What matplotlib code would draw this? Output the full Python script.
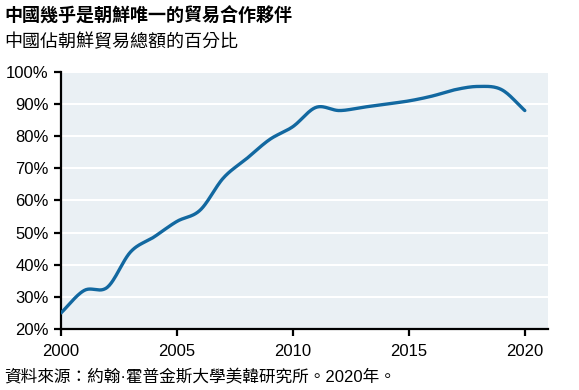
import numpy as np
import matplotlib
matplotlib.use("Agg")
import matplotlib.pyplot as plt

years = [2000, 2001, 2002, 2003, 2004, 2005, 2006, 2007, 2008, 2009, 2010,
         2011, 2012, 2013, 2014, 2015, 2016, 2017, 2018, 2019, 2020]
share = [25, 32, 33, 44, 48.6, 53.5, 57, 67, 73, 79, 83,
         89, 88, 89, 90, 91, 92.5, 94.5, 95.5, 94.5, 88]
yticks = [20, 30, 40, 50, 60, 70, 80, 90, 100]
xticks = [2000, 2005, 2010, 2015, 2020]

title = "中國幾乎是朝鮮唯一的貿易合作夥伴"
subtitle = "中國佔朝鮮貿易總額的百分比"
source = "資料來源：約翰·霍普金斯大學美韓研究所。2020年。"

plt.rcParams['font.family'] = ['Liberation Sans', 'Noto Sans CJK TC', 'DejaVu Sans']

def smooth(x, y, n=24):
    # Catmull-Rom curve through the data points (drawing only)
    x = np.asarray(x, float); y = np.asarray(y, float)
    P = np.column_stack([x, y])
    P = np.vstack([2*P[0] - P[1], P, 2*P[-1] - P[-2]])
    out = []
    for i in range(1, len(P) - 2):
        p0, p1, p2, p3 = P[i-1], P[i], P[i+1], P[i+2]
        t = np.linspace(0, 1, n, endpoint=False)[:, None]
        pt = 0.5 * ((2*p1) + (-p0 + p2)*t + (2*p0 - 5*p1 + 4*p2 - p3)*t**2
                    + (-p0 + 3*p1 - 3*p2 + p3)*t**3)
        out.append(pt)
    out.append(P[-2][None, :])
    out = np.vstack(out)
    return out[:, 0], out[:, 1]

fig = plt.figure(figsize=(5.79, 3.90), dpi=100)
ax = fig.add_axes([61/579, 1 - 329/390, (548-61)/579, (329-72)/390])
ax.set_facecolor('#EAF0F4')
sx, sy = smooth(years, share)
ax.plot(sx, sy, color='#1268A0', lw=2.4, solid_capstyle='round', zorder=3)
ax.set_xlim(2000, 2021)
ax.set_ylim(20, 100)
ax.set_yticks(yticks)
ax.set_yticklabels([f"{v}%" for v in yticks])
ax.set_xticks(xticks)
for v in yticks[1:]:
    ax.axhline(v, color='white', lw=1.5, zorder=1)
for s in ['top', 'right']:
    ax.spines[s].set_visible(False)
for s in ['left', 'bottom']:
    ax.spines[s].set_color('black')
    ax.spines[s].set_linewidth(1.6)
ax.tick_params(axis='both', direction='out', length=5, width=1.6, colors='black',
               labelsize=12)
ax.tick_params(axis='y', pad=4)
ax.tick_params(axis='x', pad=6)

fig.text(4/579, 1 - 16/390, title, fontsize=13, fontweight='bold',
         family=['Noto Sans CJK TC', 'DejaVu Sans'], va='center', ha='left')
fig.text(4/579, 1 - 42/390, subtitle, fontsize=13,
         family=['Noto Sans CJK TC', 'DejaVu Sans'], va='center', ha='left')
fig.text(4/579, 1 - 377/390, source, fontsize=12,
         family=['Liberation Sans', 'Noto Sans CJK TC', 'DejaVu Sans'],
         va='center', ha='left')

fig.savefig('out.png', dpi=100)
